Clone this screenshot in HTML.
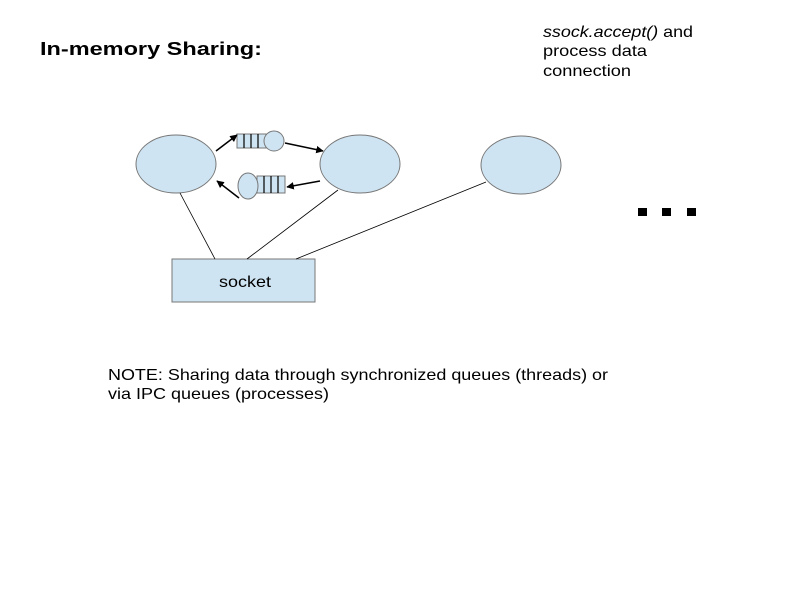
<!DOCTYPE html>
<html><head><style>body{margin:0;background:#fff}svg{display:block}text{font-family:"Liberation Sans",sans-serif}</style></head>
<body>
<svg width="794" height="595" viewBox="0 0 794 595" xmlns="http://www.w3.org/2000/svg">
<defs><marker id="a" viewBox="0 0 10 10" refX="9" refY="5" markerWidth="5" markerHeight="5" orient="auto"><path d="M0,0L10,5L0,10z" fill="#000"/></marker></defs>
<text x="40" y="55" font-size="18" font-weight="bold" textLength="222" lengthAdjust="spacingAndGlyphs">In-memory Sharing:</text>
<text x="543" y="37" font-size="16" textLength="150" lengthAdjust="spacingAndGlyphs"><tspan font-style="italic">ssock.accept()</tspan> and</text>
<text x="543" y="56" font-size="16" textLength="104" lengthAdjust="spacingAndGlyphs">process data</text>
<text x="543" y="76" font-size="16" textLength="88" lengthAdjust="spacingAndGlyphs">connection</text>
<g fill="#cfe4f2" stroke="#777" stroke-width="1">
<ellipse cx="176" cy="164" rx="40" ry="29"/>
<ellipse cx="360" cy="164" rx="40" ry="29"/>
<ellipse cx="521" cy="165" rx="40" ry="29"/>
<rect x="172" y="259" width="143" height="43"/>
<rect x="237" y="134" width="29" height="14"/>
<circle cx="274" cy="141" r="10"/>
<rect x="257" y="176" width="28" height="17"/>
<ellipse cx="248" cy="186" rx="10" ry="13"/>
</g>
<g stroke="#000" stroke-width="1.2">
<line x1="244" y1="134" x2="244" y2="148"/><line x1="251" y1="134" x2="251" y2="148"/><line x1="258" y1="134" x2="258" y2="148"/>
<line x1="264" y1="176" x2="264" y2="193"/><line x1="271" y1="176" x2="271" y2="193"/><line x1="278" y1="176" x2="278" y2="193"/>
</g>
<g stroke="#000" stroke-width="1.5" marker-end="url(#a)">
<line x1="216" y1="151" x2="237" y2="135"/>
<line x1="285" y1="143" x2="323" y2="151"/>
<line x1="320" y1="181" x2="287" y2="187"/>
<line x1="239" y1="198" x2="217" y2="181"/>
</g>
<g stroke="#000" stroke-width="0.8">
<line x1="180" y1="193" x2="215" y2="259"/>
<line x1="338" y1="190" x2="247" y2="259"/>
<line x1="486" y1="182" x2="296" y2="259"/>
</g>
<text x="219" y="287" font-size="16" textLength="52" lengthAdjust="spacingAndGlyphs">socket</text>
<rect x="638" y="208" width="9" height="8"/><rect x="662" y="208" width="9" height="8"/><rect x="687" y="208" width="9" height="8"/>
<text x="108" y="380" font-size="16" textLength="500" lengthAdjust="spacingAndGlyphs">NOTE: Sharing data through synchronized queues (threads) or</text>
<text x="108" y="399" font-size="16" textLength="221" lengthAdjust="spacingAndGlyphs">via IPC queues (processes)</text>
</svg>
</body></html>
